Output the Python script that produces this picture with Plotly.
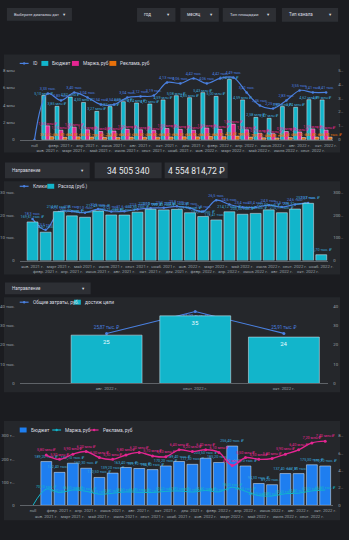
import plotly.graph_objects as go

W, H = 349, 540


def px(x):
    return x / W


def py(y):
    return 1 - y / H


def ru(v, nd=2):
    s = f"{v:,.{nd}f}"
    return s.replace(",", " ").replace(".", ",")


def lbl(v, unit, nd=2):
    return "" if v is None else f"{ru(v, nd)} {unit}"


# ---------------- data ----------------
months = ["null", "янв. 2021 г.", "февр. 2021 г.", "март 2021 г.", "апр. 2021 г.", "май 2021 г.",
          "июнь 2021 г.", "июль 2021 г.", "авг. 2021 г.", "сент. 2021 г.", "окт. 2021 г.",
          "нояб. 2021 г.", "дек. 2021 г.", "янв. 2022 г.", "февр. 2022 г.", "март 2022 г.",
          "апр. 2022 г.", "май 2022 г.", "июнь 2022 г.", "июль 2022 г.", "авг. 2022 г.",
          "сент. 2022 г.", "окт. 2022 г."]

# chart 1: budget / margin / ads by month, plus ID count line
budget_mln = [None, 5.10, 3.85, 4.92, 4.30, 3.27, 3.82, 4.39, 4.24, 4.12, 4.59, 5.08,
              4.85, 5.43, 5.00, 6.94, 4.59, 2.58, 2.47, 3.82, 3.74, 4.62, 4.59]
margin_mln = [None, 1.60, 1.10, 1.45, 1.15, 0.95, 1.00, 1.20, 1.15, 1.05, 1.30, 1.20,
              1.10, 1.35, 1.20, 1.80, 1.15, 0.75, 0.70, 0.95, 0.90, 1.25, 1.10]
ads_k = [None, 352.4, 281.7, 334.1, 312.9, 251.3, 268.5, 301.2, 293.8, 297.6, 318.4, 336.2,
         327.9, 361.5, 349.3, 418.7, 302.6, 221.4, 204.8, 268.3, 259.1, 312.5, 301.9]
id_count = [0, 3.33, 2.83, 3.40, 3.04, 2.54, 2.54, 3.04, 3.12, 3.19, 4.13, 4.06,
            4.42, 4.06, 4.42, 4.49, 3.41, 2.46, 2.25, 2.83, 3.55, 3.41, 3.41]

# chart 2: clicks and spend
months_2 = ["янв. 2021 г.", "февр. 2021 г.", "март 2021 г.", "апр. 2021 г.", "май 2021 г.",
            "июнь 2021 г.", "июль 2021 г.", "авг. 2021 г.", "сент. 2021 г.", "окт. 2021 г.",
            "нояб. 2021 г.", "дек. 2021 г.", "янв. 2022 г.", "февр. 2022 г.", "март 2022 г.",
            "апр. 2022 г.", "май 2022 г.", "июнь 2022 г.", "июль 2022 г.", "авг. 2022 г.",
            "сент. 2022 г.", "окт. 2022 г.", "нояб. 2022 г."]
spend_k = [169.61, 124.57, 214.87, 196.30, 190.12, 217.43, 200.21, 199.84, 212.35, 225.10,
           222.43, 224.86, 209.93, 193.24, 178.41, 214.12, 203.35, 207.04, 222.53, 210.17,
           226.32, 251.37, 25.70]
clicks_k = [18.3, 13.5, 21.3, 21.6, 21.0, 22.6, 21.5, 21.6, 22.5, 23.0, 23.2, 23.8,
            23.0, 21.5, 26.5, 24.6, 23.4, 23.4, 24.3, 23.5, 24.6, 25.3, None]

# chart 3: total costs and goal completions
months_3 = ["авг. 2022 г.", "сент. 2022 г.", "окт. 2022 г."]
goals = [25, 35, 24]
costs_k = [25.87, 37.21, 25.91]

# chart 4: budget bars, margin and ads lines
budget4_k = [None, 189.2, 142.4, 182.1, 160.3, 120.5, 139.2, 163.4, 159.1, 154.3, 170.2, 189.4,
             177.3, 203.5, 185.2, 256.4, 170.1, 94.3, 89.2, 137.4, 137.1, 175.3, 170.2]
margin4_k = [0, 70.1, 55.2, 66.3, 60.4, 48.2, 52.3, 58.1, 56.2, 55.4, 60.2, 62.1,
             57.3, 64.2, 58.1, 78.4, 60.2, 42.1, 40.3, 50.2, 52.4, 62.3, 66.1]
ads4_mln = [None, 5.8, 5.3, 5.9, 6.2, 5.5, 5.3, 5.8, 6.1, 5.7, 5.6, 6.4,
            6.2, 6.4, 6.1, 4.6, 5.5, 5.3, 5.4, 5.9, 6.4, 7.2, 7.4]

# ---------------- style ----------------
BG = "#1b1c20"
PANEL = "#25272b"
BOX = "#2d2f34"
TXT = "#dadce0"
TICK = "#9aa0a6"
CYAN = "#12b5cb"
PINK = "#e52592"
ORANGE = "#e8710a"
BLUE = "#4a80e0"
BLUE4 = "#1e7ef0"
LBL = "#3aa8dc"
FONT = "Roboto, DejaVu Sans, sans-serif"
LS = 3.8  # data label size

fig = go.Figure()

# ---------------- chart 1 ----------------
fig.add_trace(go.Bar(
    x=months, y=budget_mln, xaxis="x", yaxis="y", marker_color=CYAN,
    width=0.3, offset=-0.45,
    text=[lbl(v, "млн ₽") for v in budget_mln], textposition="outside",
    textfont=dict(size=LS, color=LBL), constraintext="none", cliponaxis=False))
fig.add_trace(go.Bar(
    x=months, y=margin_mln, xaxis="x", yaxis="y", marker_color=PINK,
    width=0.3, offset=-0.15,
    text=[lbl(v, "млн ₽") for v in margin_mln], textposition="outside",
    textfont=dict(size=LS, color=PINK), constraintext="none", cliponaxis=False))
fig.add_trace(go.Bar(
    x=months, y=[None if v is None else v / 1000 for v in ads_k], xaxis="x", yaxis="y",
    marker_color=ORANGE, width=0.3, offset=0.15,
    text=[lbl(v, "тыс. ₽") for v in ads_k], textposition="outside",
    textfont=dict(size=LS, color=ORANGE), constraintext="none", cliponaxis=False))
fig.add_trace(go.Scatter(
    x=months, y=id_count, xaxis="x", yaxis="y2", mode="lines+markers+text",
    line=dict(color=BLUE, width=1.2, shape="spline"), marker=dict(size=2.5, color=BLUE),
    text=[lbl(v, "тыс.") if v else "" for v in id_count], textposition="top center",
    textfont=dict(size=LS, color=BLUE), cliponaxis=False))

# ---------------- chart 2 ----------------
fig.add_trace(go.Bar(
    x=months_2, y=spend_k, xaxis="x2", yaxis="y4", marker_color=CYAN, width=0.83,
    text=[lbl(v, "тыс. ₽") for v in spend_k], textposition="outside",
    textfont=dict(size=LS, color=LBL), constraintext="none", cliponaxis=False))
fig.add_trace(go.Scatter(
    x=months_2, y=clicks_k, xaxis="x2", yaxis="y3", mode="lines+markers+text",
    line=dict(color=BLUE, width=1.2, shape="spline"), marker=dict(size=2.5, color=BLUE),
    text=[lbl(v, "тыс.", 1) for v in clicks_k], textposition="top center",
    textfont=dict(size=LS, color=BLUE), cliponaxis=False))

# ---------------- chart 3 ----------------
fig.add_trace(go.Bar(
    x=months_3, y=goals, xaxis="x3", yaxis="y6", marker_color=CYAN, width=0.8,
    text=[str(v) for v in goals], textposition="inside", insidetextanchor="end",
    textfont=dict(size=6, color="#eafcff"), constraintext="none"))
fig.add_trace(go.Scatter(
    x=months_3, y=costs_k, xaxis="x3", yaxis="y5", mode="lines+markers+text",
    line=dict(color=BLUE, width=1.1), marker=dict(size=3, color=BLUE),
    text=[lbl(v, "тыс. ₽") for v in costs_k],
    textposition=["top center", "bottom center", "top center"],
    textfont=dict(size=4.5, color=BLUE), cliponaxis=False))

# ---------------- chart 4 ----------------
fig.add_trace(go.Bar(
    x=months, y=budget4_k, xaxis="x4", yaxis="y7", marker_color=BLUE4, width=0.82,
    text=[lbl(v, "тыс. ₽") for v in budget4_k], textposition="outside",
    textfont=dict(size=LS, color=LBL), constraintext="none", cliponaxis=False))
fig.add_trace(go.Scatter(
    x=months, y=margin4_k, xaxis="x4", yaxis="y7", mode="lines+text",
    line=dict(color=CYAN, width=1, shape="spline"),
    text=[lbl(v, "тыс. ₽") if v else "" for v in margin4_k], textposition="top center",
    textfont=dict(size=3.6, color=CYAN), cliponaxis=False))
fig.add_trace(go.Scatter(
    x=months, y=ads4_mln, xaxis="x4", yaxis="y8", mode="lines+markers+text",
    line=dict(color=PINK, width=1.4, shape="spline"), marker=dict(size=3, color=PINK),
    text=[lbl(v, "млн ₽") for v in ads4_mln], textposition="top center",
    textfont=dict(size=LS, color=PINK), cliponaxis=False))


# ---------------- axes ----------------
def xcat(dom, rng, cats, anchor):
    return dict(
        domain=[px(dom[0]), px(dom[1])], range=rng, type="category", anchor=anchor,
        tickmode="array", tickvals=cats,
        ticktext=[c if i % 2 == 0 else "<br>" + c for i, c in enumerate(cats)],
        tickangle=0, tickfont=dict(size=4.2, color=TICK), showgrid=False, zeroline=False,
        showline=True, linecolor="#5f6368", linewidth=1, ticks="", ticklabelstandoff=1)


def yax(dom, rng, vals, texts, anchor, side="left", overlay=None):
    d = dict(
        domain=[py(dom[0]), py(dom[1])], range=rng, anchor=anchor, side=side,
        tickmode="array", tickvals=vals, ticktext=texts,
        tickfont=dict(size=4.3, color=TICK), showgrid=False, zeroline=False,
        showline=False, ticks="", ticklabelstandoff=4)
    if overlay:
        d["overlaying"] = overlay
    return d


fig.update_layout(
    xaxis=xcat((20, 338), [-1.115, 22.53], months, "y"),
    yaxis=yax((139, 69), [0, 8], [0, 2, 4, 6, 8], ["0", "2 млн", "4 млн", "6 млн", "8 млн"], "x"),
    yaxis2=yax((139, 69), [0, 5], [0, 1, 2, 3, 4, 5], ["0", "1…", "2…", "3…", "4…", "5…"],
               "x", "right", "y"),
    xaxis2=xcat((20, 333), [-0.976, 22.53], months_2, "y3"),
    yaxis3=yax((261, 192), [0, 30], [0, 10, 20, 30], ["0", "10 тыс.", "20 тыс.", "30 тыс."], "x2"),
    yaxis4=yax((261, 192), [0, 300], [0, 100, 200, 300], ["0", "100…", "200…", "300…"],
               "x2", "right", "y3"),
    xaxis3=xcat((20, 333), [-0.98, 2.5], months_3, "y5"),
    yaxis5=yax((385, 307), [0, 40], [0, 10, 20, 30, 40],
               ["0", "10 тыс.", "20 тыс.", "30 тыс.", "40 тыс."], "x3"),
    yaxis6=yax((385, 307), [0, 40], [0, 10, 20, 30, 40], ["0", "10", "20", "30", "40"],
               "x3", "right", "y5"),
    xaxis4=xcat((20, 338), [-1.0, 22.6], months, "y7"),
    yaxis7=yax((508, 438), [0, 300], [0, 100, 200, 300], ["0", "100 т…", "200 т…", "300 т…"], "x4"),
    yaxis8=yax((508, 438), [0, 8], [0, 2, 4, 6, 8], ["0", "2…", "4…", "6…", "8…"],
               "x4", "right", "y7"),
)
fig.update_layout(xaxis3=dict(ticktext=months_3))

# ---------------- panels, controls, legends ----------------
shapes = []
annots = []


def rect(x0, y0, x1, y1, color, line=None):
    shapes.append(dict(type="rect", xref="paper", yref="paper", layer="below",
                       x0=px(x0), x1=px(x1), y0=py(y1), y1=py(y0),
                       fillcolor=color, line=dict(width=0) if line is None else line))


def text(x, y, s, size=5, color=TXT, anchor="left"):
    annots.append(dict(xref="paper", yref="paper", x=px(x), y=py(y), text=s, showarrow=False,
                       xanchor=anchor, yanchor="middle", font=dict(size=size, color=color)))


def dropdown(x0, y0, x1, y1, label, size=4.5):
    rect(x0, y0, x1, y1, BOX)
    text(x0 + 5, (y0 + y1) / 2, label, size)
    text(x1 - 4, (y0 + y1) / 2, "▾", 4.5, TXT, "right")


def legend(items, y):
    for kind, x, color, label in items:
        if kind == "bar":
            shapes.append(dict(type="rect", xref="paper", yref="paper",
                               x0=px(x), x1=px(x + 7), y0=py(y + 2.5), y1=py(y - 2.5),
                               fillcolor=color, line=dict(width=0)))
            text(x + 9, y, label, 4.8)
        else:
            shapes.append(dict(type="line", xref="paper", yref="paper",
                               x0=px(x), x1=px(x + 9), y0=py(y), y1=py(y),
                               line=dict(color=color, width=1.2)))
            shapes.append(dict(type="circle", xref="paper", yref="paper",
                               x0=px(x + 3.3), x1=px(x + 5.7), y0=py(y + 1.2), y1=py(y - 1.2),
                               fillcolor=color, line=dict(width=0)))
            text(x + 11, y, label, 4.8)


# top filters
dropdown(7, 6, 73, 19, "Выберите диапазон дат", 4.0)
dropdown(139, 6, 178, 20, "год")
dropdown(183, 6, 222, 20, "месяц")
dropdown(226, 6, 280, 20, "Тип площадки", 4.2)
dropdown(286, 6, 343, 20, "Тип канала")

# panel 1
rect(4, 53, 345, 152, PANEL)
legend([("line", 20, BLUE, "ID"), ("bar", 42, CYAN, "Бюджет"),
        ("bar", 73, PINK, "Маржа, руб"), ("bar", 111, ORANGE, "Реклама, руб")], 62)

# selector and KPI row
dropdown(5, 162, 91, 178, "Направление")
rect(96, 162, 164, 178, BOX)
text(130, 170.5, "34 505 340", 8.5, "#e8eaed", "center")
rect(167, 162, 231, 178, BOX)
text(199, 170.5, "4 554 814,72 ₽", 8.5, "#e8eaed", "center")

# panel 2
rect(4, 181, 345, 275, PANEL)
legend([("line", 20, BLUE, "Клики"), ("bar", 48, CYAN, "Расход (руб.)")], 186)

# selector + panel 3
dropdown(5, 283, 92, 295, "Направление")
rect(4, 298, 345, 394, PANEL)
legend([("line", 20, BLUE, "Общие затраты, руб."), ("bar", 75, CYAN, "достиж цели")], 303)

# panel 4
rect(4, 423, 345, 523, PANEL)
legend([("bar", 20, BLUE4, "Бюджет"), ("line", 53, CYAN, "Маржа, руб"),
        ("line", 91, PINK, "Реклама, руб")], 432)

fig.update_layout(
    width=W, height=H, margin=dict(l=0, r=0, t=0, b=0),
    paper_bgcolor=BG, plot_bgcolor="rgba(0,0,0,0)",
    font=dict(family=FONT, color=TXT, size=5),
    showlegend=False, barmode="group",
    shapes=shapes, annotations=annots,
)

fig.write_html("out.html")
